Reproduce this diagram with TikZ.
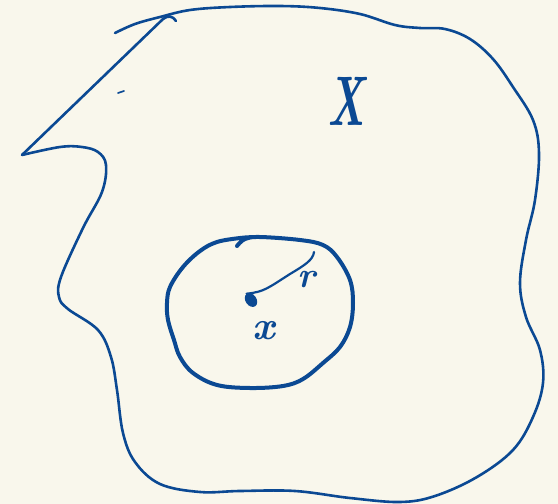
\documentclass[tikz,border=0pt]{standalone}
\usepackage{tikz}
\usepackage{xcolor}
\usetikzlibrary{shapes.geometric, positioning}
\definecolor{ink}{RGB}{11,73,147}
\definecolor{paper}{RGB}{249,247,236}
\tikzstyle{pen} = [draw=ink, line width=2.6pt, line cap=round, line join=round]
\tikzstyle{thickpen} = [draw=ink, line width=4pt, line cap=round, line join=round]
\tikzstyle{hand} = [text=ink, inner sep=0pt]

\begin{document}
\begin{tikzpicture}[x=1pt, y=-1pt]
        \fill[paper] (0,0) rectangle (558,504);
        \useasboundingbox (0,0) rectangle (558,504);

        % outer region
        \draw[pen] plot[smooth, tension=0.6] coordinates {(115,33) (135,24) (160,17) (190,10) (230,7) (280,6) (320,8) (360,14) (395,25) (420,28) (445,29) (470,39) (493,59) (513,87) (533,120) (539,153) (535,200) (526,240) (520,283) (526,317) (540,350) (543,383) (533,417) (513,450) (477,477) (435,496) (400,502) (350,498) (295,491) (240,491) (200,492) (160,484) (135,462) (123,433) (117,390) (111,357) (98,330) (68,309) (59,297) (61,277) (83,228) (102,192) (106,165) (98,152) (82,147) (60,147) (22,155)};
        \coordinate (tip) at (22,155);
        \coordinate (hook) at (176,21);
        \draw[pen] (tip) -- (163,19) .. controls (168,15) and (173,16) .. (hook);
        \draw[pen, line width=1.6pt] (118,93) -- (124,91);

        \node[hand, font=\fontsize{54}{54}\selectfont\bfseries\itshape, xscale=0.8, yscale=1.3] (setX) at (346,101) {X};

        % ball
        \draw[thickpen] plot[smooth, tension=0.6] coordinates {(237,246) (245,239) (260,237) (300,240) (323,245) (337,257) (350,280) (353,303) (350,327) (340,347) (323,363) (303,379) (283,386) (250,388) (217,385) (193,373) (180,357) (174,340) (168,320) (167,303) (170,287) (183,267) (200,251) (217,242) (240,238) (255,237)};

        \node[ellipse, fill=ink, minimum width=11pt, minimum height=15pt, inner sep=0pt, rotate=35] (ctr) at (251,300) {};
        \coordinate (rim) at (314,252);
        \draw[pen, line width=2.2pt] (ctr.north) .. controls (264,292) and (268,288) .. (290,274) .. controls (305,265) and (313,260) .. (rim);
        \node[hand, font=\fontsize{36}{36}\selectfont\bfseries\itshape] (rad) at (307,280) {r};
        \node[hand, font=\fontsize{40}{40}\selectfont\bfseries\itshape] (pt) at (264,331) {x};
    \end{tikzpicture}
\end{document}
